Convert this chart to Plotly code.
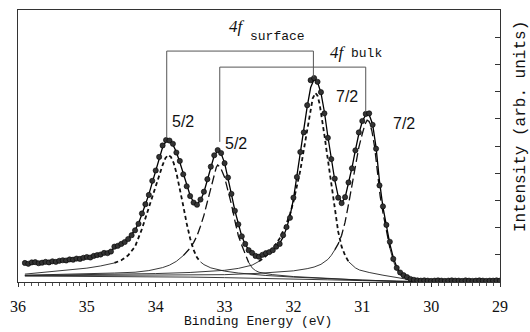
import plotly.graph_objects as go

# ---------------- data ----------------
x_data = [35.90,35.85,35.80,35.75,35.70,35.65,35.60,35.55,35.50,35.45,
          35.40,35.35,35.30,35.25,35.20,35.15,35.10,35.05,35.00,34.95,
          34.90,34.85,34.80,34.75,34.70,34.65,34.60,34.55,34.50,34.45,
          34.40,34.35,34.30,34.25,34.20,34.15,34.10,34.05,34.00,33.95,
          33.90,33.85,33.80,33.75,33.70,33.65,33.60,33.55,33.50,33.45,
          33.40,33.35,33.30,33.25,33.20,33.15,33.10,33.05,33.00,32.95,
          32.90,32.85,32.80,32.75,32.70,32.65,32.60,32.55,32.50,32.45,
          32.40,32.35,32.30,32.25,32.20,32.15,32.10,32.05,32.00,31.95,
          31.90,31.85,31.80,31.75,31.70,31.65,31.60,31.55,31.50,31.45,
          31.40,31.35,31.30,31.25,31.20,31.15,31.10,31.05,31.00,30.95,
          30.90,30.85,30.80,30.75,30.70,30.65,30.60,30.55,30.50,30.45,
          30.40,30.35,30.30,30.25,30.20,30.15,30.10,30.05,30.00,29.95,
          29.90,29.85,29.80,29.75,29.70,29.65,29.60,29.55,29.50,29.45,
          29.40,29.35,29.30,29.25,29.20,29.15,29.10,29.05,29.00]

y_data = [0.70,0.67,0.72,0.73,0.69,0.71,0.74,0.72,0.76,0.74,
          0.78,0.80,0.79,0.83,0.82,0.86,0.85,0.89,0.92,0.90,
          0.96,0.99,1.01,1.07,1.06,1.12,1.30,1.33,1.40,1.47,
          1.58,1.72,1.90,2.14,2.52,2.86,3.20,3.72,4.10,4.60,
          5.02,5.22,5.20,5.08,4.76,4.45,3.96,3.52,3.16,2.92,
          2.84,3.03,3.32,3.78,4.24,4.66,4.85,4.74,4.37,3.84,
          3.24,2.62,2.12,1.68,1.40,1.17,1.07,0.96,0.93,1.00,
          1.06,1.10,1.17,1.30,1.40,1.72,2.02,2.36,3.10,3.86,
          4.78,5.50,6.50,7.42,7.50,7.36,6.98,6.20,5.30,4.52,
          3.80,3.10,2.90,3.12,3.66,4.18,4.84,5.50,5.92,6.18,
          6.20,5.78,4.90,3.55,2.78,2.10,1.48,0.85,0.52,0.35,
          0.25,0.18,0.11,0.08,0.06,0.05,0.06,0.05,0.04,0.05,
          0.06,0.05,0.04,0.05,0.06,0.05,0.05,0.04,0.06,0.05,
          0.04,0.05,0.06,0.05,0.04,0.05,0.05,0.06,0.05]

y_fit = [0.70,0.70,0.71,0.71,0.72,0.72,0.73,0.74,0.75,0.76,
         0.77,0.79,0.80,0.82,0.83,0.85,0.87,0.89,0.91,0.93,
         0.96,0.99,1.02,1.06,1.10,1.16,1.24,1.32,1.41,1.50,
         1.60,1.74,1.92,2.15,2.48,2.85,3.22,3.65,4.08,4.55,
         4.95,5.18,5.20,5.05,4.78,4.40,3.98,3.55,3.18,2.93,
         2.86,3.00,3.30,3.75,4.25,4.65,4.82,4.72,4.38,3.85,
         3.22,2.62,2.10,1.68,1.38,1.18,1.05,0.98,0.96,0.99,
         1.04,1.10,1.18,1.28,1.42,1.65,1.98,2.42,3.05,3.85,
         4.75,5.60,6.45,7.15,7.45,7.35,6.95,6.25,5.35,4.50,
         3.75,3.15,2.92,3.10,3.62,4.20,4.85,5.45,5.90,6.15,
         6.15,5.80,4.95,3.70,2.75,2.00,1.40,0.90,0.55,0.36,
         0.25,0.17,0.12,0.09,0.07,0.06,0.06,0.05,0.05,0.05,
         0.05,0.05,0.05,0.05,0.05,0.05,0.05,0.05,0.05,0.05,
         0.05,0.05,0.05,0.05,0.05,0.05,0.05,0.05,0.05]

bg_x = [35.9,35.0,34.0,33.5,33.0,32.5,32.0,31.5,31.0,30.6,30.3,29.0]
bg_y = [0.22,0.21,0.19,0.18,0.16,0.14,0.11,0.08,0.05,0.02,0.01,0.01]

s52_x = [35.9,35.6,35.3,35.0,34.8,34.6,34.5,34.4,34.3,34.2,34.15,34.1,34.05,34.0,33.95,
         33.9,33.86,33.82,33.78,33.74,33.7,33.65,33.6,33.55,33.5,33.45,33.4,33.35,33.3,33.2,
         33.1,33.0,32.8,32.6,32.4,32.0,31.6,31.0,30.5,30.0,29.0]
s52_y = [0.29,0.36,0.43,0.51,0.59,0.70,0.80,0.98,1.30,1.95,2.35,2.75,3.15,3.55,3.95,
         4.30,4.55,4.67,4.60,4.38,4.02,3.45,2.80,2.15,1.60,1.18,0.90,0.74,0.64,0.52,
         0.45,0.40,0.33,0.28,0.24,0.18,0.13,0.07,0.03,0.01,0.00]

b52_x = [35.9,35.5,35.0,34.6,34.3,34.1,33.9,33.8,33.7,33.6,33.5,33.45,33.4,33.35,33.3,
         33.25,33.2,33.15,33.12,33.1,33.06,33.0,32.95,32.9,32.85,32.8,32.75,32.7,32.65,32.6,
         32.55,32.5,32.4,32.3,32.0,31.5,31.0,30.5,30.0,29.0]
b52_y = [0.25,0.27,0.30,0.33,0.36,0.42,0.53,0.62,0.76,0.97,1.25,1.45,1.70,2.05,2.45,
         2.95,3.45,3.95,4.22,4.30,4.22,3.85,3.40,2.85,2.25,1.70,1.35,1.00,0.72,0.52,
         0.42,0.36,0.31,0.27,0.20,0.13,0.07,0.03,0.01,0.00]

s72_x = [35.9,35.0,34.5,34.0,33.5,33.2,33.0,32.8,32.6,32.5,32.4,32.3,32.2,32.1,32.05,
         32.0,31.95,31.9,31.85,31.8,31.76,31.72,31.68,31.65,31.62,31.58,31.55,31.5,31.45,31.4,
         31.35,31.3,31.25,31.2,31.1,31.04,30.9,30.7,30.5,30.4,30.3,30.0,29.5,29.0]
s72_y = [0.24,0.27,0.29,0.31,0.35,0.39,0.43,0.50,0.62,0.76,0.95,1.22,1.60,2.15,2.50,
         2.95,3.50,4.10,4.85,5.60,6.20,6.75,6.95,6.85,6.55,5.95,5.40,4.50,3.55,2.70,
         1.85,1.30,0.98,0.75,0.52,0.44,0.35,0.25,0.16,0.12,0.08,0.04,0.02,0.01]

b72_x = [35.9,35.0,34.0,33.5,33.0,32.5,32.2,32.0,31.8,31.7,31.6,31.5,31.45,31.4,31.35,
         31.3,31.25,31.2,31.15,31.1,31.05,31.0,30.96,30.93,30.9,30.86,30.82,30.78,30.74,30.7,
         30.65,30.6,30.55,30.5,30.45,30.4,30.3,30.2,30.0,29.5,29.0]
b72_y = [0.23,0.24,0.25,0.26,0.27,0.32,0.36,0.41,0.49,0.55,0.65,0.83,0.98,1.18,1.40,
         1.72,2.20,2.85,3.60,4.30,4.95,5.45,5.80,5.95,5.90,5.55,4.95,4.05,3.15,2.55,
         1.85,1.25,0.78,0.45,0.26,0.17,0.09,0.06,0.04,0.02,0.01]

# bracket markers (peak positions / heights)
surf_bracket_x = [33.84, 33.84, 31.71, 31.71]
surf_bracket_y = [5.33, 8.49, 8.49, 7.54]
bulk_bracket_x = [33.07, 33.07, 30.95, 30.95]
bulk_bracket_y = [5.15, 7.90, 7.90, 6.25]

tick_vals = [36, 35, 34, 33, 32, 31, 30, 29]
tick_text = ["36", "35", "34", "33", "32", "31", "30", "29"]

# ---------------- layout geometry ----------------
W, H = 530, 332
L, R, T, B = 18, 30, 10, 50
PW, PH = W - L - R, H - T - B

def pxx(v):
    return (v - L) / PW

def pxy(v):
    return (H - B - v) / PH

def split(ys, thr):
    n = len(ys)
    core, tail = [], []
    for i, y in enumerate(ys):
        hi = y >= thr
        nb_hi = (i > 0 and ys[i - 1] >= thr) or (i < n - 1 and ys[i + 1] >= thr)
        core.append(y if (hi or nb_hi) else None)
        tail.append(y if not hi else None)
    return core, tail

fig = go.Figure()

fig.add_trace(go.Scatter(x=bg_x, y=bg_y, mode="lines",
                         line=dict(color="#222", width=0.9), hoverinfo="skip"))

comps = [
    (s52_x, s52_y, 0.8, "4px,3px", 1.8),
    (b52_x, b52_y, 1.0, "9px,4px", 1.3),
    (s72_x, s72_y, 0.9, "4px,3px", 1.8),
    (b72_x, b72_y, 1.3, "9px,4px", 1.3),
]
for xs, ys, thr, dash, w in comps:
    core, tail = split(ys, thr)
    fig.add_trace(go.Scatter(x=xs, y=tail, mode="lines", line=dict(color="#222", width=0.9),
                             hoverinfo="skip"))
    fig.add_trace(go.Scatter(x=xs, y=core, mode="lines",
                             line=dict(color="#111", width=w, dash=dash), hoverinfo="skip"))

fig.add_trace(go.Scatter(x=x_data, y=y_fit, mode="lines",
                         line=dict(color="#000", width=1.3), hoverinfo="skip"))
fig.add_trace(go.Scatter(x=x_data, y=y_data, mode="markers",
                         marker=dict(size=5.2, color="#333", line=dict(color="#000", width=0.6))))

for bx, by in [(surf_bracket_x, surf_bracket_y), (bulk_bracket_x, bulk_bracket_y)]:
    fig.add_trace(go.Scatter(x=bx, y=by, mode="lines", line=dict(color="#555", width=1),
                             hoverinfo="skip"))

ann = []
def add_text(text, cx, cy, family, size, angle=0):
    ann.append(dict(text=text, xref="paper", yref="paper", x=pxx(cx), y=pxy(cy),
                    xanchor="center", yanchor="middle", showarrow=False, textangle=angle,
                    font=dict(family=family, size=size, color="#111")))

add_text("<i>4f</i>", 237, 26, "Liberation Serif", 17)
add_text("surface", 277, 37, "Liberation Mono", 13)
add_text("<i>4f</i>", 338, 52, "Liberation Serif", 17)
add_text("bulk", 366, 53, "Liberation Mono", 13)
add_text("5/2", 182.5, 121.5, "Liberation Sans", 16)
add_text("5/2", 235.5, 143, "Liberation Sans", 16)
add_text("7/2", 346.5, 96.5, "Liberation Sans", 16)
add_text("7/2", 403.5, 123.5, "Liberation Sans", 16)
add_text("Binding Energy (eV)", 257.5, 321, "Liberation Mono", 13)
add_text("Intensity (arb. units)", 521, 127, "Liberation Mono", 16, angle=-90)

fig.update_layout(
    width=W, height=H, margin=dict(l=L, r=R, t=T, b=B),
    plot_bgcolor="white", paper_bgcolor="white", showlegend=False,
    annotations=ann, hovermode=False,
    xaxis=dict(range=[36, 29], tickvals=tick_vals, ticktext=tick_text,
               ticks="outside", ticklen=4, tickcolor="#333", tickwidth=1,
               minor=dict(dtick=0.1, ticks="outside", ticklen=3, tickcolor="#555"),
               showline=True, linecolor="#333", linewidth=1, mirror=True,
               showgrid=False, zeroline=False, ticklabelstandoff=6,
               tickfont=dict(family="Liberation Serif", size=16, color="#111")),
    yaxis=dict(range=[0, 10], side="right", dtick=1, ticks="inside", ticklen=5,
               tickcolor="#333", showticklabels=False, showline=True, linecolor="#333",
               linewidth=1, mirror=True, showgrid=False, zeroline=False),
)

fig.write_html("out.html", config={"displayModeBar": False, "staticPlot": True},
               post_script="document.body.style.margin='0px';document.body.style.overflow='hidden';")
